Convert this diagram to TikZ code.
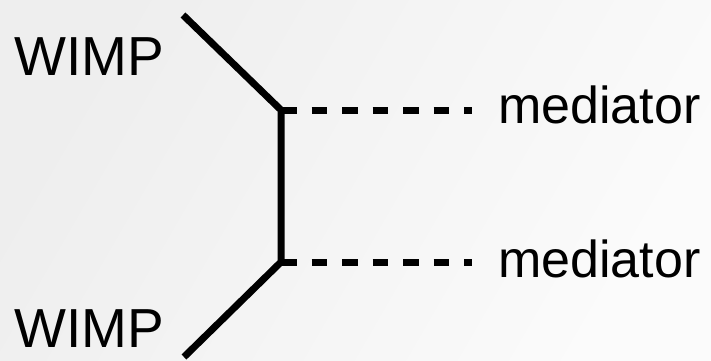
\documentclass[tikz,border=0pt]{standalone}
\usepackage{fontspec}
\setmainfont{Liberation Sans}
\definecolor{bgA}{HTML}{EEEEEE}
\definecolor{bgB}{HTML}{FBFBFB}
\tikzset{
  fermion/.style={line width=7pt, line join=bevel},
  medline/.style={line width=7pt, dash pattern=on 15.5pt off 15pt},
  lbl/.style={inner sep=0pt, anchor=base west},
}
\begin{document}
\begin{tikzpicture}[x=1pt,y=-1pt]
\useasboundingbox (0,0) rectangle (711,360);
\shade[shading=axis, left color=bgA, right color=bgB, shading angle=60] (0,0) rectangle (711,360);
\coordinate (in1) at (183,15);
\coordinate (v1) at (281,110);
\coordinate (v2) at (281,262);
\coordinate (in2) at (184,357);
\coordinate (out1) at (472,110);
\coordinate (out2) at (472,262);
\draw[fermion] (in1) -- (v1) -- (v2) -- (in2);
\draw[medline] (v1) -- (out1);
\draw[medline] (v2) -- (out2);
\node[lbl, font=\fontsize{55}{60}\selectfont] (w1) at (14,75) {WIMP};
\node[lbl, font=\fontsize{55}{60}\selectfont] (w2) at (14,347) {WIMP};
\node[lbl, font=\fontsize{52}{58}\selectfont] (m1) at (498,123) {mediator};
\node[lbl, font=\fontsize{52}{58}\selectfont] (m2) at (498,277) {mediator};
\end{tikzpicture}
\end{document}
